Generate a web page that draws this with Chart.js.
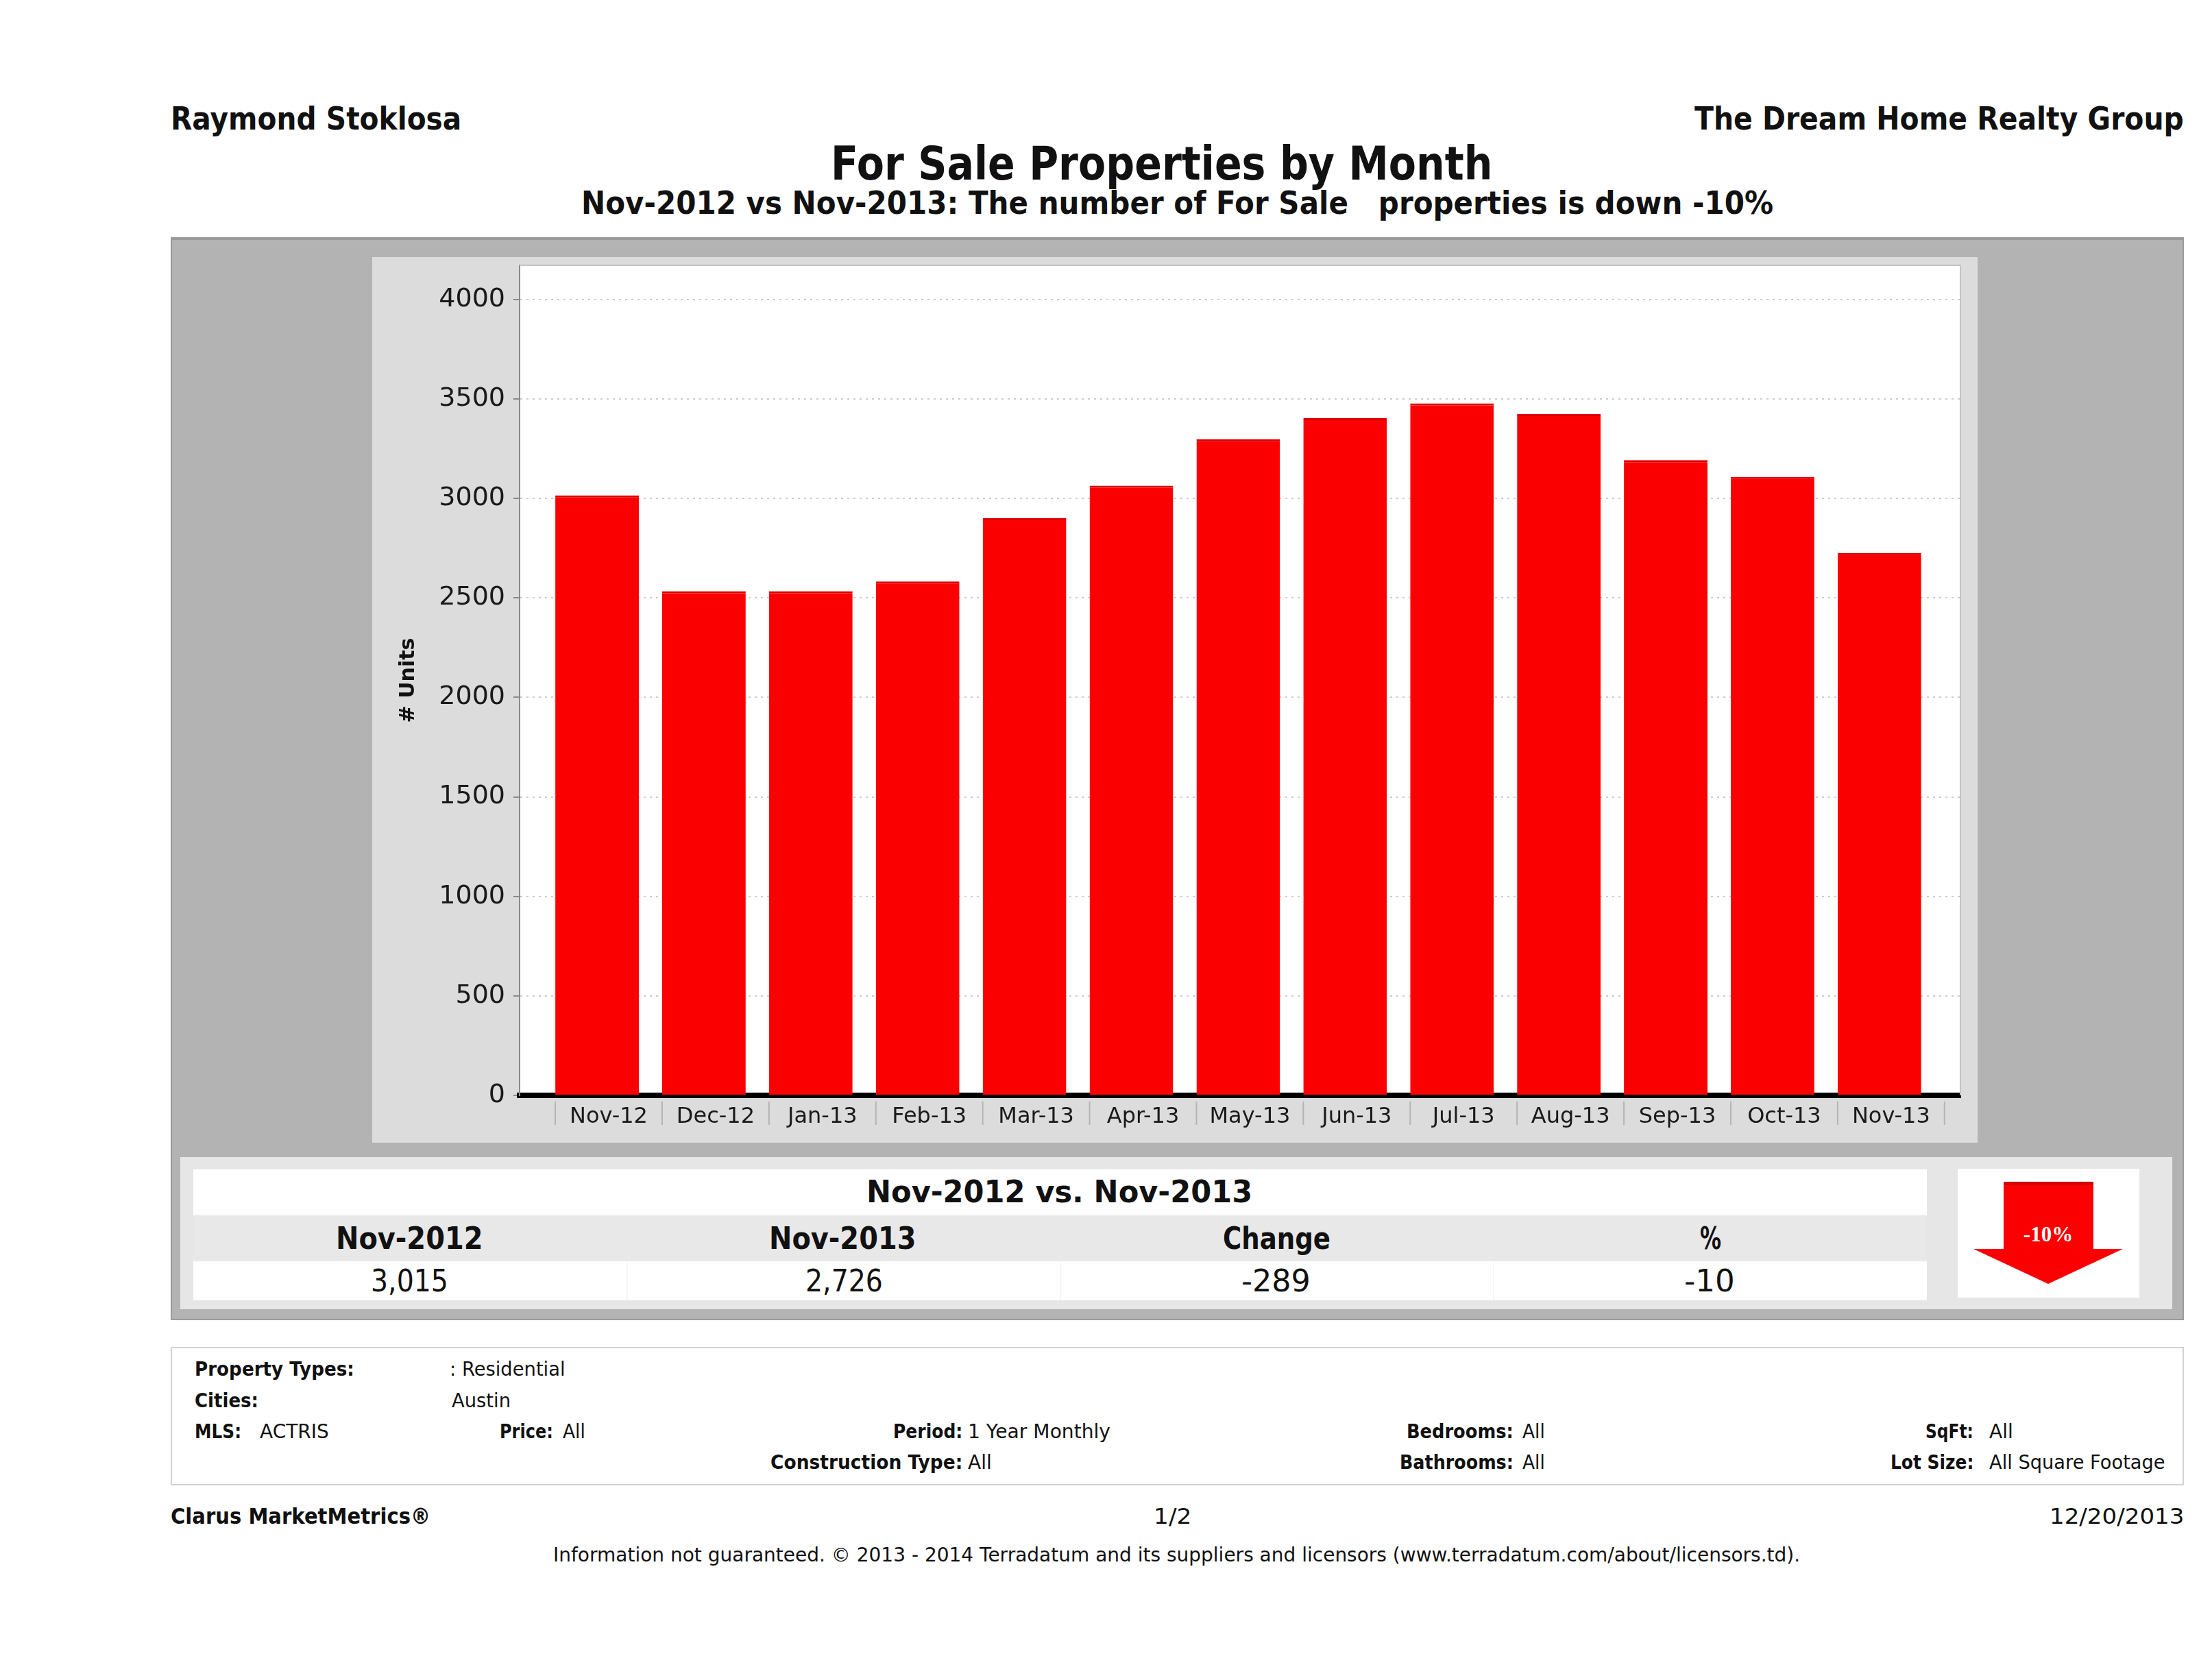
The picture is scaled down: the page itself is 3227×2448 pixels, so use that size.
<!DOCTYPE html>
<html>
<head>
<meta charset="utf-8">
<title>For Sale Properties by Month</title>
<script src="https://cdn.jsdelivr.net/npm/chart.js@4.4.1/dist/chart.umd.min.js"></script>
<style>
  body { margin: 0; width: 3227px; height: 2448px; background: #fff; position: relative; overflow: hidden;
         font-family: "DejaVu Sans", sans-serif; color: #111; }
  .t { position: absolute; white-space: pre; transform-origin: 0 50%; }
  .b { font-weight: bold; }
  .box { position: absolute; }
</style>
</head>
<body>

<!-- header -->
<div class="t b" data-w="424" style="left:249px; top:150px; font-size:46px; line-height:46px;">Raymond Stoklosa</div>
<div class="t b" data-w="714" style="left:2472px; top:150px; font-size:46px; line-height:46px;">The Dream Home Realty Group</div>
<div class="t b" data-w="965" style="left:1212px; top:205px; font-size:68px; line-height:68px;">For Sale Properties by Month</div>
<div class="t b" data-w="1739" style="left:848px; top:273px; font-size:46px; line-height:46px;">Nov-2012 vs Nov-2013: The number of For Sale   properties is down -10%</div>

<!-- grey report panel -->
<div class="box" style="left:249px; top:346px; width:2933px; height:1574px; background:#b3b3b3; border:2px solid #9a9a9a; border-top-width:4px;"></div>
<div class="box" style="left:543px; top:375px; width:2342px; height:1292px; background:#dcdcdc;">
  <canvas id="barChart" width="2342" height="1292"></canvas>
</div>

<!-- comparison table -->
<div class="box" style="left:263px; top:1688px; width:2906px; height:222px; background:#e6e6e6;"></div>
<div class="box" style="left:282px; top:1706px; width:2529px; height:67px; background:#fff;"></div>
<div class="box" style="left:282px; top:1773px; width:2529px; height:67px; background:#e8e8e8;"></div>
<div class="box" style="left:282px; top:1840px; width:2529px; height:57px; background:#fff;"></div>
<div class="box" style="left:914px; top:1840px; width:2px; height:57px; background:#f5f5f5;"></div>
<div class="box" style="left:1546px; top:1840px; width:2px; height:57px; background:#f5f5f5;"></div>
<div class="box" style="left:2178px; top:1840px; width:2px; height:57px; background:#f5f5f5;"></div>

<div class="t b" data-w="563" style="left:1264px; top:1717px; font-size:44px; line-height:44px;">Nov-2012 vs. Nov-2013</div>
<div class="t b" data-w="214" style="left:490px; top:1785px; font-size:44px; line-height:44px;">Nov-2012</div>
<div class="t b" data-w="214" style="left:1122px; top:1785px; font-size:44px; line-height:44px;">Nov-2013</div>
<div class="t b" data-w="157" style="left:1784px; top:1785px; font-size:44px; line-height:44px;">Change</div>
<div class="t b" data-w="31" style="left:2480px; top:1785px; font-size:44px; line-height:44px;">%</div>
<div class="t" data-w="113" style="left:541px; top:1847px; font-size:44px; line-height:44px;">3,015</div>
<div class="t" data-w="113" style="left:1175px; top:1847px; font-size:44px; line-height:44px;">2,726</div>
<div class="t" data-w="101" style="left:1811px; top:1847px; font-size:44px; line-height:44px;">-289</div>
<div class="t" data-w="74" style="left:2457px; top:1847px; font-size:44px; line-height:44px;">-10</div>

<!-- down arrow -->
<div class="box" style="left:2856px; top:1705px; width:265px; height:188px; background:#fff;">
  <svg width="265" height="188" viewBox="0 0 265 188">
    <polygon points="67,19 198,19 198,117 241,117 132,168 23,117 67,117" fill="#fa0000"/>
    <rect x="67" y="19" width="131" height="5" fill="#d40000"/>
    <text x="132" y="106" text-anchor="middle" fill="#fff" font-family="Liberation Serif" font-weight="bold" font-size="31">-10%</text>
  </svg>
</div>

<!-- criteria box -->
<div class="box" style="left:249px; top:1965px; width:2933px; height:198px; background:#fff; border:2px solid #d2d2d2;"></div>
<div class="t b" data-w="233" style="left:284px; top:1984px; font-size:28px; line-height:28px;">Property Types:</div>
<div class="t" data-w="169" style="left:656px; top:1984px; font-size:28px; line-height:28px;">: Residential</div>
<div class="t b" data-w="93" style="left:284px; top:2030px; font-size:28px; line-height:28px;">Cities:</div>
<div class="t" data-w="86" style="left:659px; top:2030px; font-size:28px; line-height:28px;">Austin</div>
<div class="t b" data-w="68" style="left:284px; top:2075px; font-size:28px; line-height:28px;">MLS:</div>
<div class="t" data-w="101" style="left:379px; top:2075px; font-size:28px; line-height:28px;">ACTRIS</div>
<div class="t b" data-w="78" style="left:729px; top:2075px; font-size:28px; line-height:28px;">Price:</div>
<div class="t" data-w="33" style="left:821px; top:2075px; font-size:28px; line-height:28px;">All</div>
<div class="t b" data-w="101" style="left:1303px; top:2075px; font-size:28px; line-height:28px;">Period:</div>
<div class="t" data-w="208" style="left:1412px; top:2075px; font-size:28px; line-height:28px;">1 Year Monthly</div>
<div class="t b" data-w="156" style="left:2052px; top:2075px; font-size:28px; line-height:28px;">Bedrooms:</div>
<div class="t" data-w="33" style="left:2221px; top:2075px; font-size:28px; line-height:28px;">All</div>
<div class="t b" data-w="70" style="left:2809px; top:2075px; font-size:28px; line-height:28px;">SqFt:</div>
<div class="t" data-w="35" style="left:2902px; top:2075px; font-size:28px; line-height:28px;">All</div>
<div class="t b" data-w="280" style="left:1124px; top:2120px; font-size:28px; line-height:28px;">Construction Type:</div>
<div class="t" data-w="35" style="left:1412px; top:2120px; font-size:28px; line-height:28px;">All</div>
<div class="t b" data-w="166" style="left:2042px; top:2120px; font-size:28px; line-height:28px;">Bathrooms:</div>
<div class="t" data-w="33" style="left:2221px; top:2120px; font-size:28px; line-height:28px;">All</div>
<div class="t b" data-w="121" style="left:2758px; top:2120px; font-size:28px; line-height:28px;">Lot Size:</div>
<div class="t" data-w="257" style="left:2902px; top:2120px; font-size:28px; line-height:28px;">All Square Footage</div>

<!-- footer -->
<div class="t b" data-w="379" style="left:249px; top:2196px; font-size:32px; line-height:32px;">Clarus MarketMetrics®</div>
<div class="t" data-w="56" style="left:1683px; top:2196px; font-size:32px; line-height:32px;">1/2</div>
<div class="t" data-w="196" style="left:2990px; top:2196px; font-size:32px; line-height:32px;">12/20/2013</div>
<div class="t" data-w="1819" style="left:807px; top:2254px; font-size:29px; line-height:29px;">Information not guaranteed. © 2013 - 2014 Terradatum and its suppliers and licensors (www.terradatum.com/about/licensors.td).</div>

<script>
// Data
const months = ['Nov-12', 'Dec-12', 'Jan-13', 'Feb-13', 'Mar-13', 'Apr-13', 'May-13',
                'Jun-13', 'Jul-13', 'Aug-13', 'Sep-13', 'Oct-13', 'Nov-13'];
const forSale = [3015, 2534, 2534, 2583, 2901, 3064, 3298, 3404, 3478, 3424, 3193, 3108, 2726];
const yTicks = [0, 500, 1000, 1500, 2000, 2500, 3000, 3500, 4000];

// squeeze every text to the width it has in the report
document.querySelectorAll('.t').forEach(el => {
  el.style.transform = 'scaleX(' + (+el.dataset.w / el.offsetWidth) + ')';
});

// white plot area, light frame, and the small separators under the x axis
const plotFrame = {
  id: 'plotFrame',
  beforeDraw(chart) {
    const a = chart.chartArea, ctx = chart.ctx;
    ctx.save();
    ctx.fillStyle = '#ffffff';
    ctx.fillRect(a.left, a.top, a.right - a.left, a.bottom - a.top);
    ctx.restore();
  },
  afterDraw(chart) {
    const a = chart.chartArea, ctx = chart.ctx;
    ctx.save();
    ctx.strokeStyle = '#c4c4c4';
    ctx.lineWidth = 2;
    ctx.beginPath();
    ctx.moveTo(a.left, a.top);
    ctx.lineTo(a.right, a.top);
    ctx.lineTo(a.right, a.bottom);
    ctx.stroke();

    const bars = chart.getDatasetMeta(0).data;
    const step = bars[1].x - bars[0].x;
    const edges = bars.map(b => b.x - b.width / 2);
    edges.push(edges[edges.length - 1] + step);
    ctx.strokeStyle = '#b4b4b4';
    edges.forEach(x => {
      ctx.beginPath();
      ctx.moveTo(x, a.bottom + 9);
      ctx.lineTo(x, a.bottom + 43);
      ctx.stroke();
    });
    ctx.restore();
  }
};

new Chart(document.getElementById('barChart').getContext('2d'), {
  type: 'bar',
  data: {
    datasets: [{
      label: 'For Sale',
      data: months.map((m, i) => ({ x: i, y: forSale[i] })),
      backgroundColor: '#fb0000',
      borderColor: '#dc0000',
      borderWidth: { top: 3, left: 0, right: 0, bottom: 0 },
      borderSkipped: 'start',
      categoryPercentage: 1,
      barPercentage: 0.782
    }]
  },
  options: {
    responsive: false,
    animation: false,
    devicePixelRatio: 1,
    layout: { padding: { top: 12, right: 25, left: 0, bottom: 0 } },
    plugins: {
      legend: { display: false },
      tooltip: { enabled: false }
    },
    scales: {
      x: {
        type: 'linear',
        min: -0.725,
        max: 12.758,
        offset: false,
        z: 1,
        afterBuildTicks: s => { s.ticks = months.map((m, i) => ({ value: i })); },
        afterFit: s => { s.height = 69; s.paddingLeft = 0; s.paddingRight = 0; },
        grid: { display: false, drawTicks: false, offset: false },
        border: { color: '#000000', width: 8 },
        ticks: {
          stepSize: 1,
          autoSkip: false,
          maxRotation: 0,
          labelOffset: 17,
          padding: 12,
          color: '#1a1a1a',
          font: { family: 'DejaVu Sans', size: 32 },
          callback: v => months[v]
        }
      },
      y: {
        min: 0,
        max: 4172,
        afterBuildTicks: s => { s.ticks = yTicks.map(v => ({ value: v })); },
        afterFit: s => { s.width = 215; s.paddingTop = 0; s.paddingBottom = 0; },
        border: { color: '#8a8a8a', width: 2, dash: [3, 6] },
        grid: {
          color: '#cccccc',
          lineWidth: 2,
          tickLength: 9,
          tickColor: '#8a8a8a',
          tickWidth: 2,
          tickBorderDash: []
        },
        ticks: {
          padding: 12,
          color: '#1a1a1a',
          font: { family: 'DejaVu Sans', size: 38 },
          callback: v => String(v)
        },
        title: {
          display: true,
          text: '# Units',
          color: '#111',
          padding: { top: 35, bottom: 0 },
          font: { family: 'DejaVu Sans', size: 30, weight: 'bold' }
        }
      }
    }
  },
  plugins: [plotFrame]
});
</script>
</body>
</html>
